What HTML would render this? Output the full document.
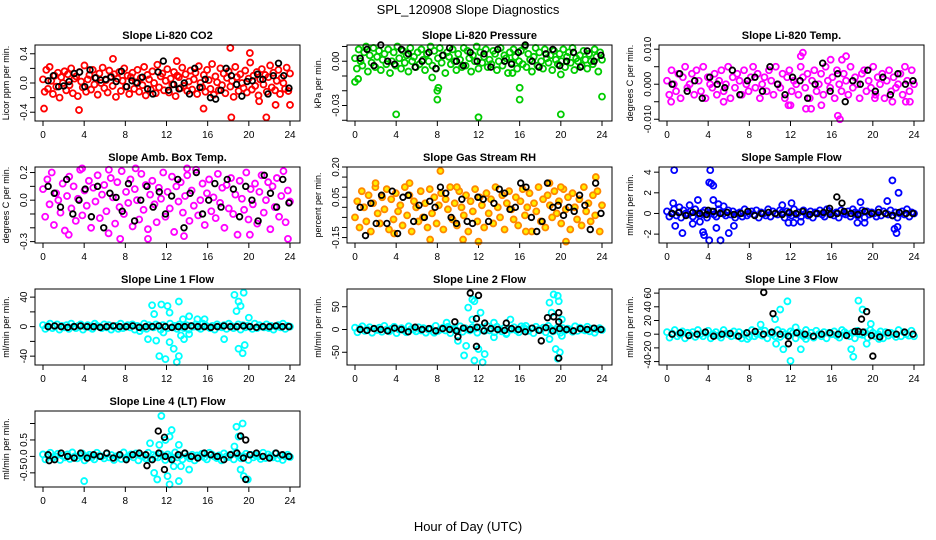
<!DOCTYPE html>
<html><head><meta charset="utf-8"><style>
body{margin:0;background:#fff}
svg{display:block;font-family:"Liberation Sans",sans-serif}
</style></head><body>
<svg id="c" width="936" height="540" xmlns="http://www.w3.org/2000/svg">
<text x="468" y="14" text-anchor="middle" font-size="13">SPL_120908  Slope Diagnostics</text>
<text x="468" y="531" text-anchor="middle" font-size="13">Hour of Day (UTC)</text>
</svg>
<script>
const hourTicks=[0,4,8,12,16,20,24];
const titles=["Slope Li-820 CO2","Slope Li-820 Pressure","Slope Li-820 Temp.","Slope Amb. Box Temp.","Slope Gas Stream RH","Slope Sample Flow","Slope Line 1 Flow","Slope Line 2 Flow","Slope Line 3 Flow","Slope Line 4 (LT) Flow"];
const yTitles=["Licor ppm per min.","kPa per min.","degrees C per min.","degrees C per min.","percent per min.","ml/min per min.","ml/min per min.","ml/min per min.","ml/min per min.","ml/min per min."];
const yRanges=[[-0.52,0.52],[-0.0405,0.011],[-0.0105,0.0112],[-0.31,0.24],[-0.177,0.20],[-2.86,4.5],[-52,51],[-78,89],[-45,66],[-0.93,1.38]];
const yTickVals=[[-0.4,-0.2,0,0.2,0.4],[-0.04,-0.03,-0.02,-0.01,0,0.01],[-0.010,-0.005,0.000,0.005,0.010],[-0.3,-0.2,-0.1,0,0.1,0.2],[-0.15,-0.10,-0.05,0,0.05,0.10,0.15,0.20],[-2,0,2,4],[-40,-20,0,20,40],[-50,0,50],[-40,-20,0,20,40,60],[-0.5,0,0.5,1.0]];
const yTickLabels=[["-0.4","","0.0","","0.4"],["","-0.03","","","0.00",""],["-0.010","","0.000","","0.010"],["-0.3","","","0.0","","0.2"],["-0.15","","","","0.05","","","0.20"],["-2","0","2","4"],["-40","","0","","40"],["-50","0","50"],["-40","-20","0","20","40","60"],["-0.5","0.0","0.5",""]];
const colors=["#ff0000","#00cc00","#ff00ff","#ff00ff","#ff8800","#0000ff","#00ffff","#00ffff","#00ffff","#00ffff"];
const fills=["none","none","none","none","#ffee00","none","none","none","none","none"];
const denseScale=[0.01,0.001,0.001,0.01,0.01,0.1,1,1,1,0.01];
const dense=[
[5,-12,18,-8,22,3,-15,10,-5,14,-20,8,0,16,-10,12,-3,20,-14,6,9,-18,15,2,-6,24,-12,5,11,-9,18,-2,7,-16,13,0,21,-7,4,-13,17,9,-4,12,-19,6,15,-11,3,20,-5,10,-15,8,14,-8,1,18,-12,7,-3,22,-17,11,5,-9,16,0,-14,25,-6,9,13,-10,3,19,-13,6,-2,15,-18,10,8,-7,21,-4,12,-11,2,17,-9,5,14,-15,23,0,-6,11,-12,18,4,-8,26,-16,9,1,-10,20,-3,13,-14,7,16,-5,3,-19,22,8,-11,12,0,-7,17,-13,6,28,-9,10,-4,15,-17,5,19,-2,11,-12,8,24,-6,14,-10,3,18,-15,7,0,-8,21,-11,13],
[2,-5,8,0,-3,6,10,-7,4,-1,9,-4,3,7,-6,1,5,-2,8,-8,0,6,-3,10,2,-5,7,-1,4,-7,9,0,3,-4,6,-2,8,1,-6,5,0,10,-3,7,-5,2,9,-1,4,-8,6,3,-2,8,0,-6,5,1,-4,9,-3,7,2,-7,4,0,10,-5,6,-1,3,8,-4,1,-2,7,5,-6,0,9,-3,4,2,-8,6,-1,8,3,-5,0,7,-2,10,-4,5,1,-7,3,9,-3,6,0,-5,8,2,-1,4,-6,7,1,-2,5,0,8,-4,3,6,-1,9,-6,2,0,4,-3,7,1,-5,5,0,-2,8,3,-7,6,1],
[1,-3,4,0,-2,3,-4,2,5,-1,0,3,-3,4,1,-2,5,-4,2,0,-1,3,-3,1,4,-2,0,5,-4,2,-1,3,1,-3,4,0,-2,2,5,-1,3,-4,0,2,-2,4,1,-3,5,0,-1,3,-4,2,4,-2,1,0,-3,5,2,-1,3,-4,1,4,-2,0,3,-3,5,1,-1,2,-4,4,0,-2,3,1,-3,5,-1,2,0,-4,3,4,-2,1,-1,5,-3,2,0,3,-4,1,4,-2,2,-1,0,3,-3,5,1,-2,4,0],
[8,-12,15,-3,20,-18,5,0,-9,12,-22,3,17,-6,10,-15,1,22,-11,7,-4,14,-20,9,-1,18,-13,4,11,-8,-24,16,2,-17,13,-5,21,-10,6,-2,15,-19,8,0,-14,19,-7,11,-21,4,14,-3,-16,9,1,20,-12,6,-6,17,-23,10,-1,13,-9,3,18,-15,7,-4,22,-11,0,12,-18,5,15,-8,2,-13,19,-2,9,-20,11,-6,16,-10,4,-25,14,1,-7,20,-14,8,-3,12,-17,6,18,-9,0,13,-21,10,-5,16,-12,3,21,-16,7,-1],
[-5,3,-10,8,0,-7,6,-12,2,10,-3,-8,5,-1,9,-11,4,-6,7,-2,1,-9,10,-4,6,-12,3,0,-7,8,-5,2,-10,9,-3,5,-8,1,7,-11,4,-1,10,-6,2,-9,8,0,-4,6,-12,3,-2,9,-7,5,1,-10,7,-3,4,-8,10,0,-5,6,-11,2,8,-1,-6,5,-9,3,9,-4,0,7,-12,2,-2,10,-7,4,-10,6,1,-5,8,-3,3,-8,9,-1,5,-11,7,0,-6,4,-9,10,-2,2,-7,6,-4,8,-12,1],
[2,-3,0,4,-2,1,-4,3,0,-1,2,-3,4,0,-2,1,3,-4,0,2,-1,-3,4,1,0,-2,3,-1,2,-4,0,1,-3,4,-2,0,2,-1,3,-4,1,0,-2,4,-3,2,0,-1,3,1,-4,2,0,-2,4,-1,1,-3,3,0,-2,2,-4,1,0,3,-1,-3,4,2,0,-2,1,-4,3,0,-1,2,-3,4,1,-2,0,3,-4,2,-1,1,0,-3,4,-2,2,0,-1,3,-2,1,-4,0,2,-1,4,-3,1,0],
[2,-3,1,4,-2,0,3,-4,1,-1,2,-3,4,0,-2,1,3,-4,0,2,-1,-3,4,1,0,-2,3,-1,2,-4,0,1,-3,4,-2,0,2,-1,3,-4,1,0,-2,4,-3,2,0,-1,3,1,-4,2,0,-2,4,-1,1,-3,3,0,-2,2,-4,1,0,3,-1,-3,4,2,0,-2,1,-4,3,0,-1,2,-3,4,1,-2,0,3,-4,2,-1,1,0,-3,4,-2,2,0,-1,3,-2,1,-4,0,2,-1,4,-3,1,0],
[4,-6,2,7,-3,0,5,-7,2,-1,4,-5,8,0,-4,2,6,-8,0,3,-2,-6,7,1,0,-4,5,-2,3,-7,0,2,-5,8,-3,0,4,-2,6,-8,1,0,-4,7,-5,3,0,-2,5,2,-7,4,0,-3,8,-2,2,-6,6,0,-4,3,-8,2,0,5,-2,-6,7,4,0,-3,2,-8,6,0,-1,4,-6,8,2,-4,0,5,-7,3,-2,2,0,-5,7,-3,4,0,-2,6,-4,2,-7,0,3,-1],
[3,-5,1,6,-3,0,4,-6,2,-1,3,-4,6,0,-3,2,5,-6,0,3,-2,-5,6,1,0,-3,4,-2,3,-6,0,2,-4,6,-3,0,3,-2,5,-6,1,0,-3,6,-4,3,0,-2,4,2,-6,3,0,-3,6,-2,2,-5,5,0,-3,3,-6,2,0,4,-2,-5,6,3,0,-3,2,-6,5,0,-1,3,-5,6,2,-3,0,4,-6,3,-2,2,0,-4,6,-3,3,0,-2,5,-3],
[6,-9,3,11,-5,0,8,-11,2,-3,6,-8,12,0,-6,3,9,-12,0,5,-3,-9,11,2,0,-6,8,-3,4,-11,0,3,-8,12,-5,0,6,-3,9,-12,2,0,-6,11,-8,4,0,-3,8,3,-11,6,0,-5,12,-3,3,-9,9,0,-6,5,-12,3,0,8,-3,-9,11,6,0,-5,3,-12,9,0,-2,6,-9,12,3,-6,0,8,-11,5,-3,3,0,-8,11,-5,6,0,-3,9,-6,3,-11,0,5,-2]
];
const outliers=[
[[0.1,-0.35],[3.5,-0.37],[15.6,-0.35],[18.2,0.48],[18.3,-0.47],[21.7,-0.47],[20.1,0.41],[21,-0.25],[24,-0.3],[22.6,-0.3],[13,0.3],[6.8,0.33]],
[[0,-0.014],[0.3,-0.012],[4,-0.036],[8,-0.02],[8.1,-0.018],[8,-0.026],[12,-0.038],[16,-0.018],[16,-0.026],[20,-0.036],[24,-0.024],[7.5,-0.011],[15.3,-0.008],[20,-0.009]],
[[0.4,-0.005],[5.5,-0.005],[11.8,-0.006],[12,-0.006],[13,0.008],[13.2,0.009],[13.5,-0.007],[14,-0.007],[15.9,0.007],[16.6,-0.009],[16.8,-0.010],[17,0.007],[17.4,0.008],[20.2,-0.004],[21.9,-0.005],[23.2,-0.005],[23.6,-0.005],[15,-0.006]],
[[2.5,-0.25],[7.5,-0.28],[10.2,-0.28],[13.7,-0.26],[14,0.23],[20.1,-0.25],[23.8,-0.28],[6.4,0.22],[9,0.23],[3.8,0.23]],
[[8.3,0.18],[20,0.1],[23.4,0.15],[20.5,-0.17],[7.3,-0.16],[10.5,-0.16],[12,-0.17],[16.6,-0.12],[3.8,-0.13],[2,0.12],[5.3,0.12],[9.9,0.1],[18.9,0.12]],
[[0.7,4.2],[0.8,-1.2],[1.5,-1.9],[0.6,1.0],[2.2,0.8],[3,1.3],[3.5,-1.8],[3.6,-2.1],[4.1,-2.6],[4.1,3.0],[4.3,2.9],[4.5,2.7],[4.2,4.2],[4.8,-1.4],[5.2,-2.6],[5,0.9],[6,-1.9],[6.5,-1.2],[11.2,0.8],[11.8,-0.9],[12.1,1.0],[12.3,-0.9],[13,-0.8],[18.5,-0.9],[18.8,1.1],[19.2,-0.9],[21.4,1.2],[21.9,3.2],[22.1,-1.5],[22.3,-1.9],[22.4,-1.3],[22.5,2.0],[2.5,-1.0],[4.5,1.3],[1.2,0.6],[5.5,0.7],[3.2,-0.8]],
[[10.6,29],[11.5,30],[12.1,28],[12.3,19],[13.2,34],[10.8,17],[10.2,-17],[11,-19],[11.3,-40],[11.9,-44],[12.3,-21],[12.7,-30],[13,-48],[13.2,-40],[13.4,-12],[13.7,-17],[13.6,10],[14.2,14],[15,10],[15.7,10],[17.6,-17],[18.6,43],[19,34],[19.2,28],[18.8,21],[19.5,46],[19,-30],[19.4,-36],[19.6,-25],[20,12],[12.7,-1],[9.4,-6],[11.7,-8],[14.2,-10]],
[[11.4,66],[11,48],[11.6,62],[12.2,37],[10.6,-57],[11.6,-68],[12.4,-72],[12.6,-54],[12,-43],[10.8,-36],[10,-25],[11.4,22],[13.5,15],[13.5,-17],[14.7,-10],[15.1,22],[16.6,8],[18.9,59],[19.3,77],[19.7,74],[19.8,62],[19.1,37],[18.9,-21],[19.5,-43],[19.7,-64],[19.9,-50],[20.1,22],[8.9,15],[7.7,-7],[20.1,-14]],
[[11.7,48],[11,36],[10.5,22],[11.3,-22],[12,-39],[10.6,-14],[13,-22],[13.5,-7],[17.9,-22],[18.6,49],[19,36],[18.1,-33],[19.4,-14],[20.6,-7],[9.1,14],[7.8,-7],[12.5,10],[19.8,15]],
[[11.5,1.23],[11.9,0.5],[11.3,0.35],[12.5,0.8],[12.3,0.6],[13.2,0.35],[10.8,-0.5],[11.1,-0.7],[12.1,-0.6],[12.3,-0.85],[13.2,-0.75],[12.7,-0.3],[4,-0.75],[18.8,0.9],[19.4,1.0],[19,0.6],[19.2,-0.4],[19.5,-0.6],[19.9,-0.7],[18.6,0.3],[10.4,0.4],[13.4,-0.3],[14.2,-0.4]]
];
const seriesBlack=[
[0.03,0.1,-0.05,-0.04,0.02,0.13,0.15,-0.05,0.18,0.07,0.04,0.05,0.08,0.02,0.16,-0.05,0.03,0.0,0.08,-0.08,-0.15,0.15,0.3,-0.1,-0.02,-0.08,0.0,-0.15,0.2,-0.06,0.05,-0.2,-0.22,-0.1,0.2,0.1,-0.02,-0.18,0.02,0.03,0.12,0.05,-0.15,0.1,0.27,0.1,-0.07],
[0.002,0.008,-0.003,0.011,0.0,-0.002,0.008,0.005,-0.004,0.0,0.006,-0.005,0.004,0.009,0.0,-0.003,0.006,0.0,0.005,-0.004,0.008,0.0,-0.002,0.006,0.011,0.0,-0.004,0.005,0.008,-0.003,0.0,0.006,-0.004,0.007,0.0,0.004],
[0.0,0.003,-0.002,0.001,-0.004,0.002,0.0,-0.001,0.004,-0.003,0.001,0.002,-0.002,0.005,0.0,-0.003,0.002,0.001,-0.004,0.0,0.006,-0.002,0.003,-0.005,0.001,0.0,0.004,-0.002,0.002,-0.003,0.003,0.0,0.001],
[0.1,0.05,-0.05,0.15,-0.1,0.0,0.08,-0.12,0.1,-0.2,0.05,0.02,-0.08,0.12,-0.15,0.0,0.1,-0.05,0.06,-0.1,0.03,0.15,-0.2,0.05,0.2,-0.1,0.0,0.12,-0.05,0.15,0.08,-0.12,0.1,0.0,-0.15,0.18,0.05,-0.05,0.15,-0.02],
[0.0,-0.14,0.02,-0.08,0.06,-0.08,0.08,-0.13,0.05,0.06,-0.07,0.01,-0.05,0.03,0.0,0.1,0.07,-0.05,-0.08,0.04,-0.07,-0.08,0.05,0.04,-0.07,0.02,0.09,0.07,-0.01,0.0,0.12,0.1,-0.05,-0.12,-0.07,0.12,0.0,0.01,-0.04,0.0,-0.02,0.06,0.01,-0.11,0.12,-0.03],
[0.0,0.1,-0.2,0.1,0.0,-0.1,0.2,0.0,0.1,-0.1,0.0,0.2,-0.2,0.0,0.1,0.0,-0.1,0.1,0.0,0.2,-0.1,0.0,0.1,-0.1,0.0,0.2,0.0,-0.1,0.2,0.0,0.1,0.0,-0.2,0.1,0.0,0.0],
[0,1,0,-1,0,1,0,0,-1,0,1,0,0,1,-1,0,0,1,0,-1,0,0,1,0,0,-1,0,1,0,0,1,0,-1,0,0,1,0,0],
[0,-2,2,0,-3,3,0,-5,5,0,2,-3,2,0,-3,3,0,5,-3,2,0,-2,2,0,-5,3,-2,4,-3,2,0,-3,2,0,3,0],
[0,2,-2,0,3,-3,0,1,-3,2,4,0,3,0,-3,2,0,-3,0,2,0,-2,4,3,-2,-4,2,0,3,0],
[0.05,-0.1,0.1,0.0,-0.05,0.1,-0.05,0.05,0.0,0.1,-0.05,0.05,-0.1,0.05,0.1,0.05,-0.1,0.1,0.0,-0.1,0.05,0.1,0.0,-0.05,0.1,0.05,0.0,-0.1,0.05,0.1,-0.05,0.05,0.1,0.0,-0.05,0.1,0.05,0.0]
];
const blackOutliers=[[],[],[],[],[],[[16.5,1.6],[17,1.0],[15.8,0.5],[4,0.3]],[],
[[11.2,80],[12,75],[11.8,24],[12.6,14],[11.8,-37],[10,-16],[9.7,17],[18.1,-25],[18.7,26],[19.3,28],[19.8,37],[19.8,17],[19.8,-63],[14.7,14]],
[[9.4,61],[10.3,30],[11.8,-14],[18.9,22],[19.4,33],[20,-32],[18.6,4]],
[[11.2,0.77],[11.8,0.58],[11.8,-0.4],[10.1,-0.28],[19.2,0.62],[19.7,0.5],[19.7,-0.7],[0.6,-0.13]]
];
const NS="http://www.w3.org/2000/svg";
const svg=document.getElementById('c');
function mk(tag,attrs,parent){const e=document.createElementNS(NS,tag);for(const k in attrs)e.setAttribute(k,attrs[k]);(parent||svg).appendChild(e);return e;}
const colLeft=[35,347,659], rowTop=[45,167,289,411], W=265, H=76;
for(let p=0;p<10;p++){
  const L=colLeft[p%3], T=rowTop[Math.floor(p/3)];
  const g=mk('g',{});
  
  
  const x0=L+8, x1=L+255;
  const xs=h=>x0+(x1-x0)*h/24;
  const [ymin,ymax]=yRanges[p];
  const ys=v=>T+H-(v-ymin)/(ymax-ymin)*H;
  const t=mk('text',{x:L+W/2,y:T-6,'text-anchor':'middle','font-size':11,'font-weight':'bold'},g);
  t.textContent=titles[p];
  
  
  const yt=mk('text',{transform:`translate(${L-26},${T+H/2}) rotate(-90)`,'text-anchor':'middle','font-size':9},g);
  yt.textContent=yTitles[p];
  
  
  hourTicks.forEach(h=>{
    mk('line',{x1:xs(h),x2:xs(h),y1:T+H,y2:T+H+5,stroke:'#000'},g);
    const tx=mk('text',{x:xs(h),y:T+H+17,'text-anchor':'middle','font-size':10},g);
    tx.textContent=h;
    
    
  });
  yTickVals[p].forEach((v,i)=>{
    const y=ys(v);
    mk('line',{x1:L-5,x2:L,y1:y,y2:y,stroke:'#000'},g);
    if(yTickLabels[p][i]){
      const tx=mk('text',{transform:`translate(${L-8},${y}) rotate(-90)`,'text-anchor':'middle','font-size':10},g);
      tx.textContent=yTickLabels[p][i];
      
      
    }
  });
  const pts=[];
  const d=dense[p];
  d.forEach((v,i)=>pts.push([i*24/(d.length-1),v*denseScale[p]]));
  outliers[p].forEach(o=>pts.push(o));
  pts.forEach(([h,v])=>{
    const c=mk('circle',{cx:xs(h),cy:ys(v),r:3,fill:fills[p],stroke:colors[p],'stroke-width':1.8},g);
    
    
  });
  const bpts=[];
  const bs=seriesBlack[p];
  bs.forEach((v,i)=>bpts.push([0.5+i*23.4/(bs.length-1),v]));
  blackOutliers[p].forEach(o=>bpts.push(o));
  bpts.forEach(([h,v])=>{
    const c=mk('circle',{cx:xs(h),cy:ys(v),r:2.8,fill:'none',stroke:'#000','stroke-width':1.8},g);
    
    
  });
  const box=mk('rect',{x:L,y:T,width:W,height:H,fill:'none',stroke:'#000','stroke-width':1},g);
  
  
}
</script>
</body></html>
